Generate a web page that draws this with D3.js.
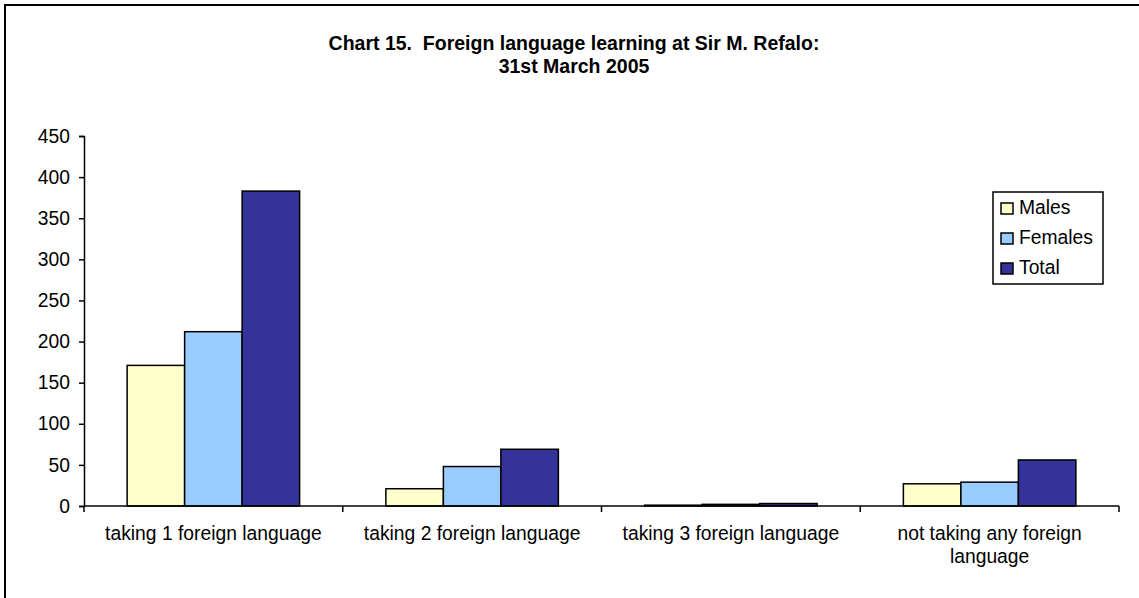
<!DOCTYPE html>
<html><head><meta charset="utf-8">
<script src="https://cdn.jsdelivr.net/npm/d3@7"></script>
<style>body{margin:0;background:#fff}svg{display:block;font-family:"Liberation Sans",Arial,sans-serif}</style>
</head><body><svg id="c" width="1139" height="598"></svg>
<script>
const categories = [["taking 1 foreign language"],["taking 2 foreign language"],["taking 3 foreign language"],["not taking any foreign","language"]];
const seriesNames = ["Males","Females","Total"];
const males = [171, 21, 1, 27];
const females = [212, 48, 2, 29];
const total = [383, 69, 3, 56];
const yTicks = [0,50,100,150,200,250,300,350,400,450];
const titleLines = ["Chart 15.  Foreign language learning at Sir M. Refalo:", "31st March 2005"];
const colors = ["#FFFFCC","#99CCFF","#333399"];

const FS = 19.3;
const svg = d3.select("#c");
svg.append("rect").attr("x",5).attr("y",5).attr("width",1145).attr("height",620).attr("fill","#fff").attr("stroke","#000").attr("stroke-width",2);

const title = svg.append("text").attr("text-anchor","middle").attr("font-weight","bold").attr("font-size",19.5).style("white-space","pre");
titleLines.forEach((t,k)=>title.append("tspan").attr("x",574).attr("y",50+k*23).text(t));

const x0 = d3.scaleBand().domain(d3.range(categories.length)).range([84,1119]).paddingInner(0).paddingOuter(0);
const x1 = d3.scaleBand().domain(seriesNames).range([0,x0.bandwidth()]).paddingInner(0).paddingOuter(0.75);
const y = d3.scaleLinear().domain([0,450]).range([506,136]);

const data = [males,females,total];
const g = svg.append("g");
categories.forEach((c,i)=>{
  seriesNames.forEach((s,j)=>{
    g.append("rect").attr("x",x0(i)+x1(s)).attr("y",y(data[j][i])).attr("width",x1.bandwidth()).attr("height",y(0)-y(data[j][i]))
     .attr("fill",colors[j]).attr("stroke","#000").attr("stroke-width",1.5);
  });
});

const ya = svg.append("g").attr("transform","translate(84,0)").call(d3.axisLeft(y).tickValues(yTicks).tickSize(5).tickPadding(9));
ya.selectAll("text").attr("font-size",FS).attr("font-family","Liberation Sans, Arial, sans-serif").attr("fill","#000");
ya.selectAll("line,path").attr("stroke","#000").attr("stroke-width",1.5);

const xa = svg.append("g").attr("transform","translate(0,506)");
xa.append("line").attr("x1",84).attr("x2",1119).attr("y1",0).attr("y2",0).attr("stroke","#000").attr("stroke-width",1.5);
d3.range(categories.length+1).forEach(i=>{
  const xx = i<categories.length ? x0(i) : x0(categories.length-1)+x0.bandwidth();
  xa.append("line").attr("x1",xx).attr("x2",xx).attr("y1",0).attr("y2",6).attr("stroke","#000").attr("stroke-width",1.5);
});
categories.forEach((c,i)=>{
  const t = xa.append("text").attr("text-anchor","middle").attr("font-size",FS).attr("fill","#000");
  c.forEach((line,k)=>t.append("tspan").attr("x",x0(i)+x0.bandwidth()/2).attr("y",34+k*23).text(line));
});

const lg = svg.append("g");
lg.append("rect").attr("x",993).attr("y",192).attr("width",110).attr("height",92).attr("fill","#fff").attr("stroke","#000").attr("stroke-width",1.5);
seriesNames.forEach((s,j)=>{
  const ty = 214 + j*30;
  lg.append("rect").attr("x",1001).attr("y",ty-11).attr("width",12).attr("height",11).attr("fill",colors[j]).attr("stroke","#000").attr("stroke-width",1.5);
  lg.append("text").attr("x",1019).attr("y",ty).attr("font-size",FS).attr("fill","#000").text(s);
});
</script></body></html>
